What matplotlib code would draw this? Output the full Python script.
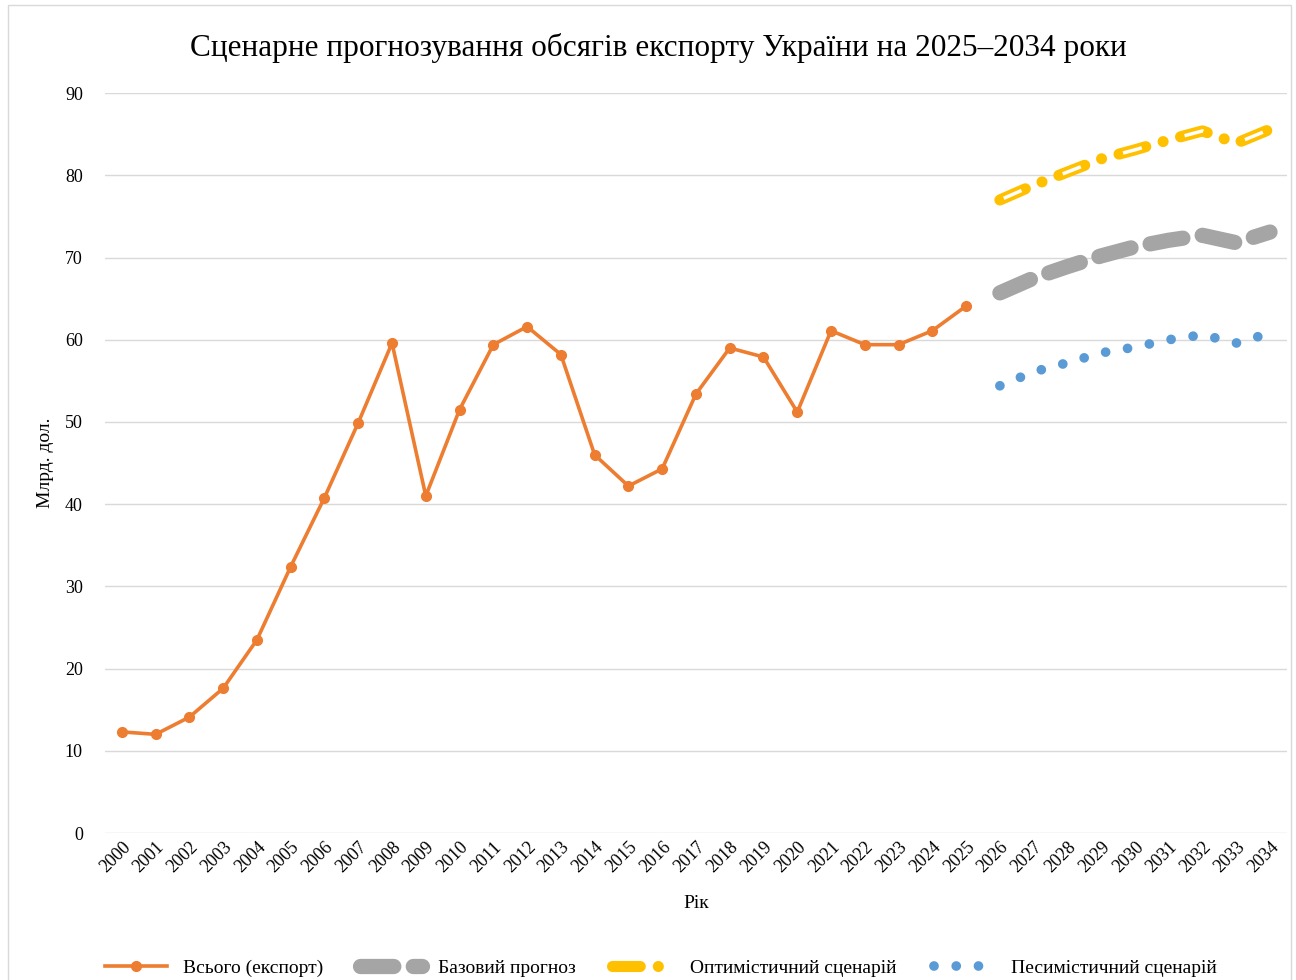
import matplotlib
matplotlib.use("Agg")
import matplotlib.pyplot as plt
from matplotlib.patches import Rectangle

plt.rcParams['font.family'] = ['Liberation Serif', 'DejaVu Serif']
plt.rcParams['lines.scale_dashes'] = False

years = list(range(2000, 2035))
hist_years = list(range(2000, 2026))
total_export = [12.3, 12.0, 14.1, 17.6, 23.5, 32.4, 40.8, 49.9, 59.6, 41.0,
                51.5, 59.4, 61.6, 58.2, 46.0, 42.2, 44.3, 53.4, 59.0, 57.9,
                51.2, 61.1, 59.4, 59.4, 61.1, 64.1]
fc_years = list(range(2026, 2035))
baseline = [65.7, 67.5, 68.9, 70.2, 71.3, 72.1, 72.7, 71.8, 73.1]
optimistic = [77.0, 78.8, 80.4, 82.0, 83.1, 84.3, 85.4, 83.9, 85.6]
pessimistic = [54.4, 56.1, 57.2, 58.4, 59.1, 60.0, 60.6, 59.6, 60.8]

title = "Сценарне прогнозування обсягів експорту України на 2025–2034 роки"
labels = ["Всього (експорт)", "Базовий прогноз", "Оптимістичний сценарій", "Песимістичний сценарій"]

fig = plt.figure(figsize=(12.96, 9.8), dpi=100)
ax = fig.add_axes([0.081, 0.15, 0.912, 0.755])

def xi(ys):
    return [y - 2000 for y in ys]

l_tot, = ax.plot(xi(hist_years), total_export, color='#ED7D31', lw=2.6, marker='o',
                 ms=7, zorder=4, label=labels[0])

l_base, = ax.plot(xi(fc_years), baseline, color='#A5A5A5', lw=11, zorder=3,
                  dash_capstyle='round', label=labels[1])
l_base.set_dashes((24, 14))

l_opt, = ax.plot(xi(fc_years), optimistic, color='#FFC000', lw=8, zorder=3,
                 dash_capstyle='round', label=labels[2])
l_opt.set_dashes((20, 13, 0.01, 13))
l_opt_in, = ax.plot(xi(fc_years), optimistic, color='white', lw=2.5, zorder=3.5,
                    dash_capstyle='butt')
l_opt_in.set_linestyle((46.01 - 3.0, (14, 32.01)))

l_pes, = ax.plot(xi(fc_years), pessimistic, color='#5B9BD5', lw=7, zorder=3,
                 dash_capstyle='round', label=labels[3])
l_pes.set_dashes((0.01, 16))

ax.set_ylim(0, 90)
ax.set_xlim(-0.5, 34.5)
ax.set_yticks(range(0, 91, 10))
ax.set_xticks(range(len(years)))
ax.set_xticklabels([str(y) for y in years], rotation=45, ha='right',
                   rotation_mode='anchor', fontsize=13)
ax.tick_params(axis='y', labelsize=13, length=0, pad=16)
ax.tick_params(axis='x', length=0, pad=4)
ax.grid(axis='y', color='#D9D9D9', lw=1)
ax.set_axisbelow(True)
for s in ax.spines.values():
    s.set_visible(False)

ax.set_ylabel("Млрд. дол.", fontsize=14, labelpad=8)
ax.set_xlabel("Рік", fontsize=14, labelpad=14)
fig.text(0.508, 0.951, title, ha='center', va='center', fontsize=22.5)

leg = fig.legend(handles=[l_tot, l_base, l_opt, l_pes], labels=labels,
                 loc='center', bbox_to_anchor=(0.51, 0.012), ncol=4, frameon=False,
                 fontsize=14, handlelength=3.2, columnspacing=1.9)

fig.patches.append(Rectangle((0.006, -0.01), 0.99, 1.005, transform=fig.transFigure,
                             fill=False, edgecolor='#D9D9D9', lw=1))

fig.savefig("out.png", dpi=100)
